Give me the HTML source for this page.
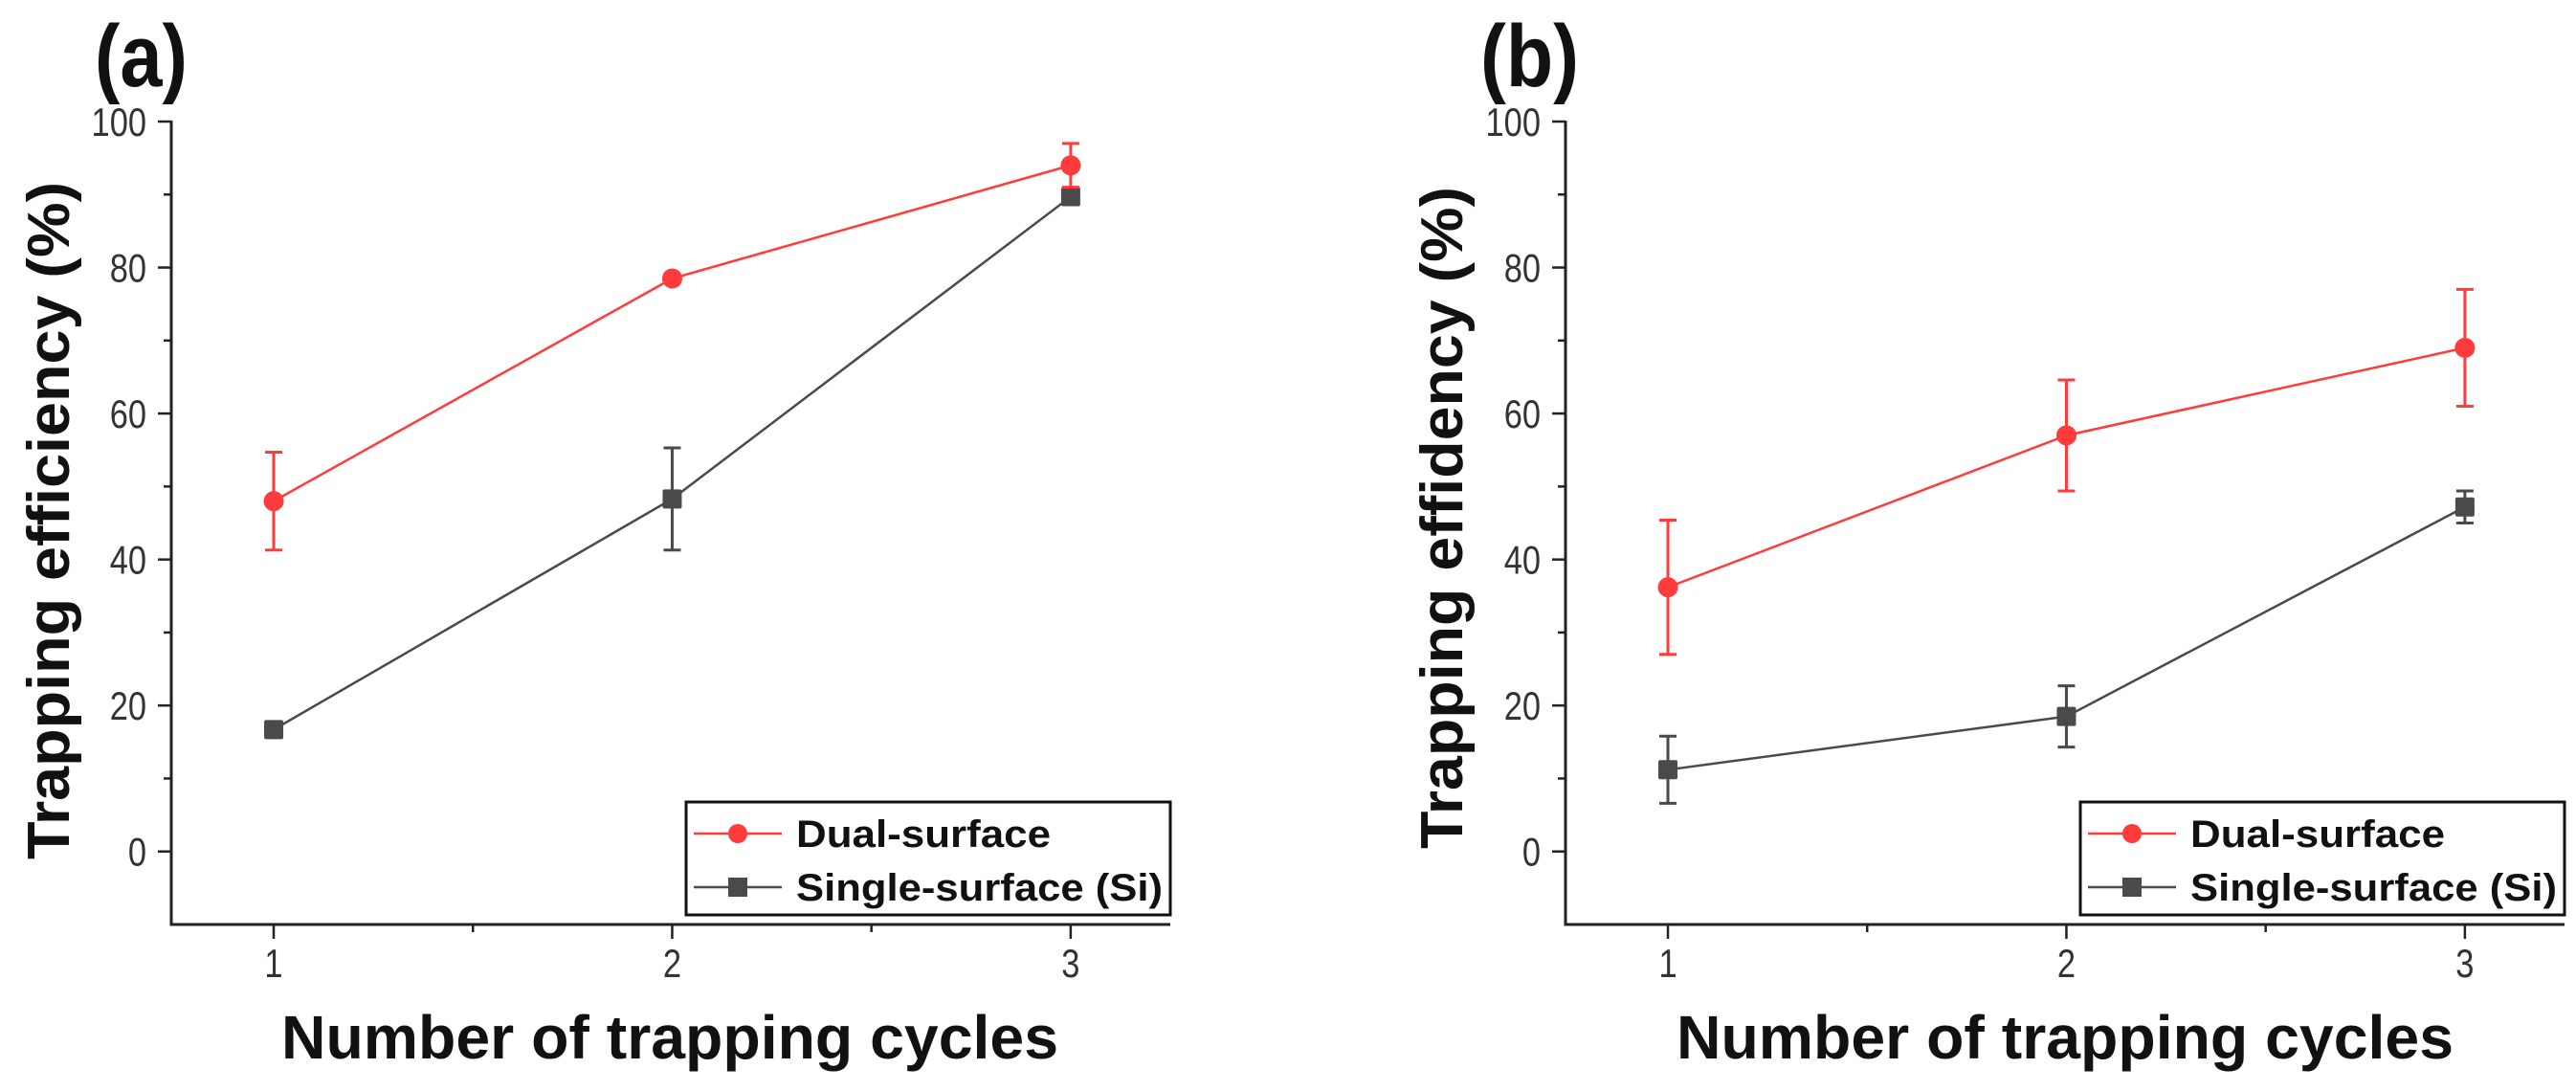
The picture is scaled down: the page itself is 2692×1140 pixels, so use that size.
<!DOCTYPE html>
<html><head><meta charset="utf-8">
<style>
html,body{margin:0;padding:0;background:#fff;}
svg{display:block;}
text{font-family:"Liberation Sans",sans-serif;}
</style></head>
<body>
<svg id="fig" width="2692" height="1140" viewBox="0 0 2692 1140" xmlns="http://www.w3.org/2000/svg"></svg>
<script>
// ---- data ----
const cycles = [1, 2, 3];
const yTicks = [0, 20, 40, 60, 80, 100];
const xTicks = [1, 2, 3];
const seriesNames = ["Dual-surface", "Single-surface (Si)"];
// panel (a)
const aDual = [48.0, 78.5, 94.0];
const aDualErr = [6.7, 0.6, 3.0];
const aSingle = [16.7, 48.3, 89.7];
const aSingleErr = [0.5, 7.0, 1.0];
// panel (b)
const bDual = [36.2, 57.0, 69.0];
const bDualErr = [9.2, 7.6, 8.0];
const bSingle = [11.2, 18.5, 47.2];
const bSingleErr = [4.6, 4.2, 2.2];

const NS = "http://www.w3.org/2000/svg";
const svg = document.getElementById('fig');
function el(tag, attrs, parent) {
  const e = document.createElementNS(NS, tag);
  for (const k in attrs) e.setAttribute(k, attrs[k]);
  (parent || svg).appendChild(e);
  return e;
}

function panel(o) {
  const g = el('g', {});
  
  
  const xMin = 0.743, xMax = 3.25, yMin = -10, yMax = 100;
  const X = v => o.axL + (v - xMin) / (xMax - xMin) * (o.axR - o.axL);
  const Y = v => o.axB - (v - yMin) / (yMax - yMin) * (o.axB - o.axT);
  const ink = '#222';

  // panel label
  const pl = el('text', {x: o.labelX, y: 90, 'font-size': 92, 'font-weight': 'bold', fill: '#111', textLength: o.labelLen, lengthAdjust: 'spacingAndGlyphs'}, g);
  pl.textContent = o.label;
  
  

  // axes
  const ya = el('line', {x1: o.axL, y1: Y(yMax) - 1, x2: o.axL, y2: o.axB + 1.5, stroke: ink, 'stroke-width': 3}, g);
  
  
  const xa = el('line', {x1: o.axL - 1.5, y1: o.axB, x2: o.axR, y2: o.axB, stroke: ink, 'stroke-width': 3}, g);
  
  

  // y ticks
  for (let v = 0; v <= 100; v += 10) {
    const major = v % 20 === 0;
    el('line', {x1: o.axL - (major ? 14 : 8), y1: Y(v), x2: o.axL, y2: Y(v), stroke: ink, 'stroke-width': 2.5}, g);
  }
  yTicks.forEach(v => {
    const t = el('text', {x: o.axL - 26, y: Y(v) + 15, 'font-size': 42, 'text-anchor': 'end', fill: '#333', transform: `translate(${o.axL - 26},0) scale(0.82,1) translate(${-(o.axL - 26)},0)`}, g);
    t.textContent = v;
    
    
  });
  // x ticks
  [1, 1.5, 2, 2.5, 3].forEach(v => {
    const major = Number.isInteger(v);
    el('line', {x1: X(v), y1: o.axB, x2: X(v), y2: o.axB + (major ? 15 : 8), stroke: ink, 'stroke-width': 2.5}, g);
  });
  xTicks.forEach(v => {
    const t = el('text', {x: X(v), y: 1021, 'font-size': 42, 'text-anchor': 'middle', fill: '#333', transform: `translate(${X(v)},0) scale(0.82,1) translate(${-X(v)},0)`}, g);
    t.textContent = v;
    
    
  });

  // axis titles
  const yt = el('text', {x: 0, y: 0, 'font-size': 62, 'font-weight': 'bold', fill: '#111', 'text-anchor': 'middle', textLength: o.yTitleLen, lengthAdjust: 'spacingAndGlyphs', transform: `translate(${o.yTitleX},${o.yTitleCY}) rotate(-90)`}, g);
  yt.textContent = o.yTitle;
  
  
  const xt = el('text', {x: o.xTitleX, y: 1106, 'font-size': 64, 'font-weight': 'bold', fill: '#111', textLength: 812, lengthAdjust: 'spacingAndGlyphs'}, g);
  xt.textContent = 'Number of trapping cycles';
  
  

  // series
  const ser = [
    {vals: o.dual, err: o.dualErr, color: '#ff3b3b', marker: 'circle', name: 'series-dual-surface'},
    {vals: o.single, err: o.singleErr, color: '#4a4a4a', marker: 'square', name: 'series-single-surface'}
  ];
  ser.slice().reverse().forEach(s => {
    const sg = el('g', {}, g);
    
    
    const pts = cycles.map((c, i) => X(c) + ',' + Y(s.vals[i])).join(' ');
    const pl2 = el('polyline', {points: pts, fill: 'none', stroke: s.color, 'stroke-width': 2.5}, sg);
    
    
    cycles.forEach((c, i) => {
      const x = X(c), y1 = Y(s.vals[i] + s.err[i]), y2 = Y(s.vals[i] - s.err[i]);
      const eb = el('path', {d: `M${x},${y1}V${y2}M${x - 9},${y1}H${x + 9}M${x - 9},${y2}H${x + 9}`, stroke: s.color, 'stroke-width': 3, fill: 'none'}, sg);
      
      
      let m;
      if (s.marker === 'circle') m = el('circle', {cx: x, cy: Y(s.vals[i]), r: 10.5, fill: s.color}, sg);
      else m = el('rect', {x: x - 10, y: Y(s.vals[i]) - 10, width: 20, height: 20, rx: 2, fill: s.color}, sg);
      
      
    });
  });

  // legend
  const lg = el('g', {}, g);
  
  
  el('rect', {x: o.legX, y: 838, width: o.axR - o.legX, height: 118, fill: '#fff', stroke: '#111', 'stroke-width': 3}, lg);
  const rows = [871, 927];
  ser.forEach((s, i) => {
    const le = el('g', {}, lg);
    
    
    el('line', {x1: o.legX + 8, y1: rows[i], x2: o.legX + 100, y2: rows[i], stroke: s.color, 'stroke-width': 2.5}, le);
    const mx = o.legX + 54;
    if (s.marker === 'circle') el('circle', {cx: mx, cy: rows[i], r: 10, fill: s.color}, le);
    else el('rect', {x: mx - 10, y: rows[i] - 10, width: 20, height: 20, fill: s.color}, le);
    const t = el('text', {x: o.legX + 115, y: rows[i] + 14, 'font-size': 40, 'font-weight': 'bold', fill: '#111', textLength: i === 0 ? 266 : 383, lengthAdjust: 'spacingAndGlyphs'}, le);
    t.textContent = seriesNames[i];
  });
}

panel({name: 'panel-a', label: '(a)', labelX: 99, labelLen: 97, axL: 179, axR: 1223, axT: 127, axB: 966,
  yTitle: 'Trapping efficiency (%)', yTitleX: 72, yTitleCY: 544, yTitleLen: 708, xTitleX: 294, legX: 717,
  dual: aDual, dualErr: aDualErr, single: aSingle, singleErr: aSingleErr});
panel({name: 'panel-b', label: '(b)', labelX: 1547, labelLen: 103, axL: 1636, axR: 2680, axT: 127, axB: 966,
  yTitle: 'Trapping effidency (%)', yTitleX: 1528, yTitleCY: 541, yTitleLen: 692, xTitleX: 1752, legX: 2174,
  dual: bDual, dualErr: bDualErr, single: bSingle, singleErr: bSingleErr});
</script>
</body></html>
